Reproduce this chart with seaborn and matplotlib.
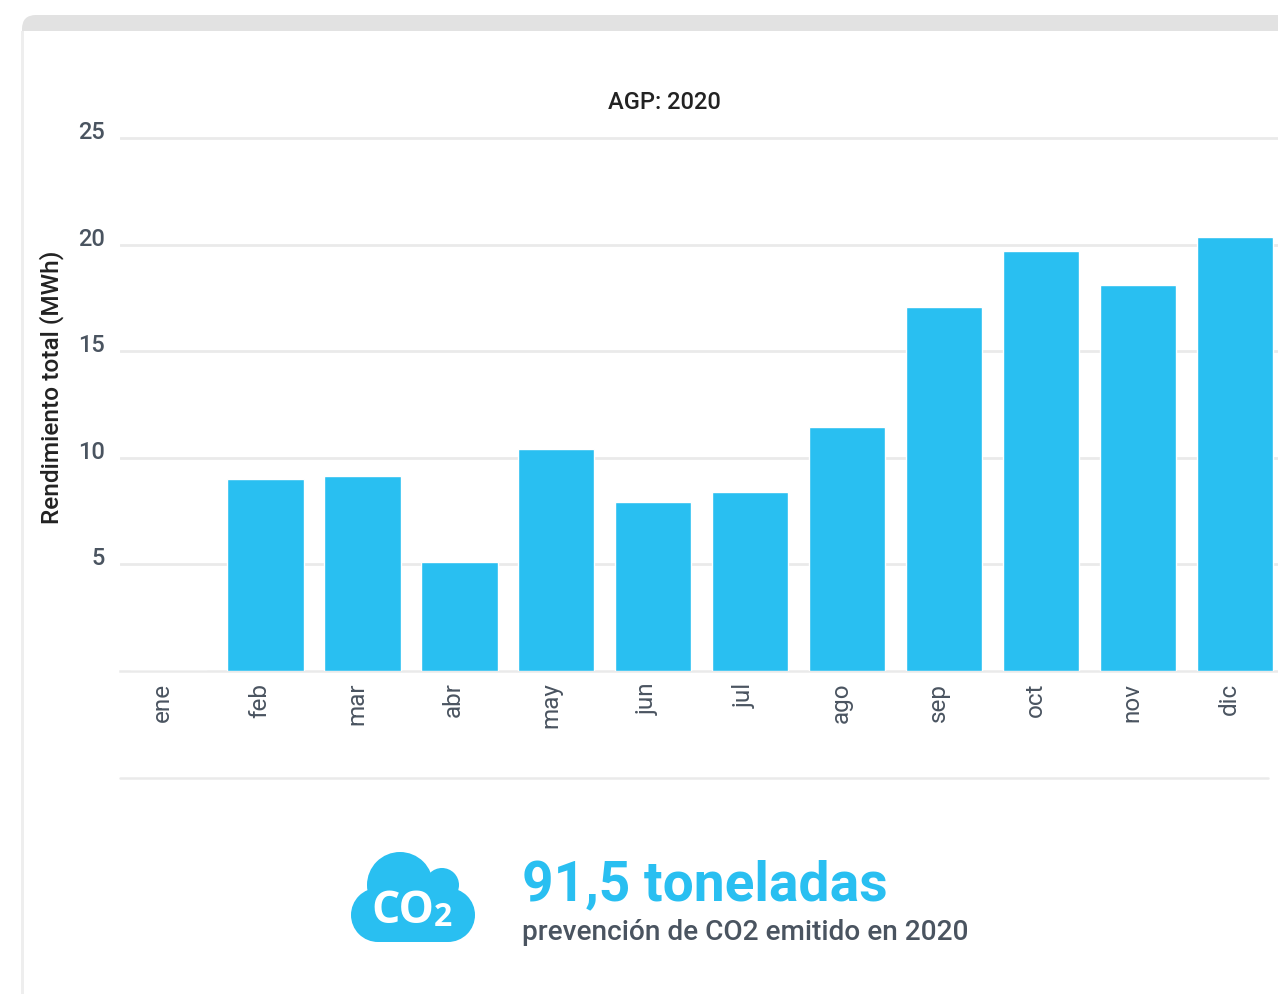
import matplotlib
matplotlib.use("Agg")
import matplotlib.pyplot as plt
import matplotlib.transforms as mtrans
from matplotlib.patches import Circle, FancyBboxPatch, Rectangle
import seaborn as sns

# --- datos ---
meses = ["ene", "feb", "mar", "abr", "may", "jun", "jul", "ago", "sep", "oct", "nov", "dic"]
rendimiento = [0, 8.97, 9.11, 5.09, 10.38, 7.89, 8.36, 11.41, 17.07, 19.70, 18.08, 20.36]
y_ticks = [5, 10, 15, 20, 25]

AZUL = "#29BFF1"
GRIS_TEXTO = "#4A5460"
GRIS_LINEA = "#EAEAEA"

sns.set_theme(style="white")
plt.rcParams["font.family"] = ["Roboto", "DejaVu Sans"]

W, H = 1278, 995
fig = plt.figure(figsize=(W / 100, H / 100), dpi=100, facecolor="white")

# fondo en pixeles: tarjeta, linea inferior, nube
bg = fig.add_axes([0, 0, 1, 1], zorder=0)
bg.set_xlim(0, W)
bg.set_ylim(H - 1, -1)
bg.axis("off")
bg.add_patch(FancyBboxPatch((36, 15), W + 40, 60, boxstyle="round,pad=0,rounding_size=15",
                            mutation_aspect=1, fc="#E2E2E2", ec="none"))
bg.add_patch(FancyBboxPatch((22, 15), 60, 60, boxstyle="round,pad=0,rounding_size=14",
                            fc="#E2E2E2", ec="none"))
bg.add_patch(Rectangle((21, 31), 3, H, fc="#EEEEEE", ec="none"))
bg.add_patch(Rectangle((24, 31), W, H, fc="white", ec="none"))
bg.plot([120, 1268], [777.5, 777.5], color=GRIS_LINEA, lw=1.8)

# nube CO2
for cx, cy, r in [(400, 885, 33), (442, 885, 17), (378, 915, 27), (448, 915, 27)]:
    bg.add_patch(Circle((cx, cy), r, fc=AZUL, ec="none"))
bg.add_patch(Rectangle((378, 890), 70, 52, fc=AZUL, ec="none"))
bg.add_patch(Rectangle((400, 880), 35, 20, fc=AZUL, ec="none"))
bg.text(371, 911, "CO", color="white", fontsize=32, fontweight="bold",
        family="Open Sans", ha="left", va="center")
bg.text(434, 917, "2", color="white", fontsize=23, fontweight="bold",
        family="Open Sans", ha="left", va="center")

bg.text(522, 884, "91,5 toneladas", color=AZUL, fontsize=39.7, fontweight="bold",
        ha="left", va="center")
bg.text(522, 932, "prevención de CO2 emitido en 2020", color=GRIS_TEXTO, fontsize=20.2,
        fontweight="medium", ha="left", va="center")

# --- grafico ---
left, right = 120, W
top, bottom = 136.5, 671.5
ax = fig.add_axes([left / W, 1 - bottom / H, (right - left) / W, (bottom - top) / H], zorder=1)
ax.patch.set_alpha(0)

sns.barplot(x=meses, y=rendimiento, color=AZUL, saturation=1, width=0.785, ax=ax, zorder=3)

ax.set_xlim(-0.5, 11.44)
ax.set_ylim(0, 25.12)
ax.set_yticks(y_ticks)
ax.set_yticklabels([str(v) for v in y_ticks], fontsize=17, color=GRIS_TEXTO, fontweight="medium")
ax.tick_params(axis="y", length=0, pad=11)
ax.tick_params(axis="x", length=0, pad=8)
ax.grid(axis="y", color=GRIS_LINEA, lw=2, zorder=0)
ax.set_axisbelow(True)
for lado in ["top", "right", "left"]:
    ax.spines[lado].set_visible(False)
ax.spines["bottom"].set_color(GRIS_LINEA)
ax.spines["bottom"].set_linewidth(1.8)

# etiquetas un poco desplazadas como en el original
sube = mtrans.ScaledTranslation(0, 9 / 100, fig.dpi_scale_trans)
for lab in ax.get_yticklabels():
    lab.set_transform(lab.get_transform() + sube)
izq = mtrans.ScaledTranslation(-6 / 100, 0, fig.dpi_scale_trans)
ax.set_xticks(range(len(meses)))
ax.set_xticklabels(meses, rotation=90, fontsize=17.5, color=GRIS_TEXTO)
for lab in ax.get_xticklabels():
    lab.set_transform(lab.get_transform() + izq)

bg.text(664, 101.5, "AGP: 2020", color="#222222", fontsize=17, fontweight="medium",
        ha="center", va="center")
bg.text(52, 386, "Rendimiento total (MWh)", color="#222222", fontsize=17.6, fontweight="medium",
        rotation=90, ha="center", va="center")

fig.savefig("out.png", dpi=100)
